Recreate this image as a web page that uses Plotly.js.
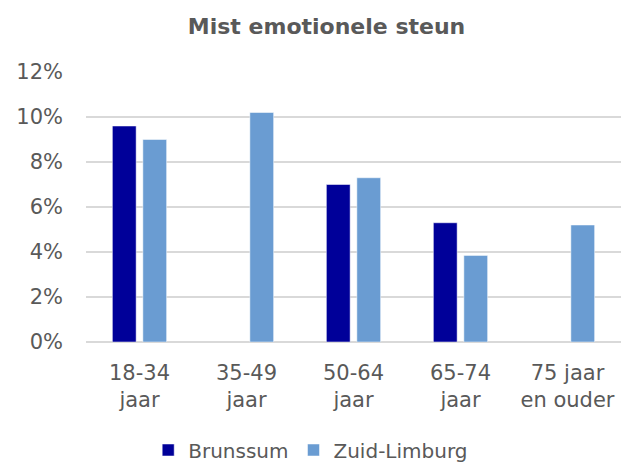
<!DOCTYPE html>
<html>
<head>
<meta charset="utf-8">
<script src="https://cdn.plot.ly/plotly-3.0.1.min.js"></script>
<style>html,body{margin:0;padding:0;background:#fff;}#chart{width:622px;height:466px;}</style>
</head>
<body>
<div id="chart"></div>
<script>
const categories = ["18-34<br>jaar", "35-49<br>jaar", "50-64<br>jaar", "65-74<br>jaar", "75 jaar<br>en ouder"];
const brunssum = [0.096, null, 0.070, 0.053, null];
const zuidLimburg = [0.090, 0.102, 0.073, 0.0385, 0.052];
const yTickVals = [0, 0.02, 0.04, 0.06, 0.08, 0.10, 0.12];
const yTickText = ["0%", "2%", "4%", "6%", "8%", "10%", "12%"];

const font = "DejaVu Sans, sans-serif";
const txt = "#595959";

const traces = [
  {type: "bar", name: "Brunssum", x: categories, y: brunssum,
   marker: {color: "#000099", line: {color: "#ffffff", width: 0.5}}, hoverinfo: "skip"},
  {type: "bar", name: "Zuid-Limburg", x: categories, y: zuidLimburg,
   marker: {color: "#6a9cd2", line: {color: "#ffffff", width: 0.5}}, hoverinfo: "skip"}
];

const layout = {
  width: 622, height: 466,
  margin: {l: 86, r: 1, t: 72, b: 124, autoexpand: false},
  paper_bgcolor: "#ffffff", plot_bgcolor: "#ffffff",
  title: {text: "<b>Mist emotionele steun</b>", x: 0.525, xanchor: "center", y: 0.943, yanchor: "middle",
          font: {family: font, size: 22, color: txt}},
  barmode: "group", bargap: 0.43, bargroupgap: 0.22,
  xaxis: {tickfont: {family: font, size: 21, color: txt}, showline: false, ticks: "",
          ticklabelstandoff: 16, automargin: false, fixedrange: true},
  yaxis: {range: [0, 0.12], tickvals: yTickVals, ticktext: yTickText,
          tickfont: {family: font, size: 21, color: txt},
          showgrid: true, gridcolor: "#d9d9d9", gridwidth: 1.3,
          zeroline: true, zerolinecolor: "#d9d9d9", zerolinewidth: 1.3,
          ticks: "", ticklabelstandoff: 22, automargin: false, fixedrange: true},
  showlegend: true,
  legend: {orientation: "h", x: 0.42, xanchor: "center", y: -0.40, yanchor: "middle",
           font: {family: font, size: 20, color: txt}, itemwidth: 20, traceorder: "normal"}
};

Plotly.newPlot("chart", traces, layout, {staticPlot: true, displayModeBar: false});
</script>
</body>
</html>
